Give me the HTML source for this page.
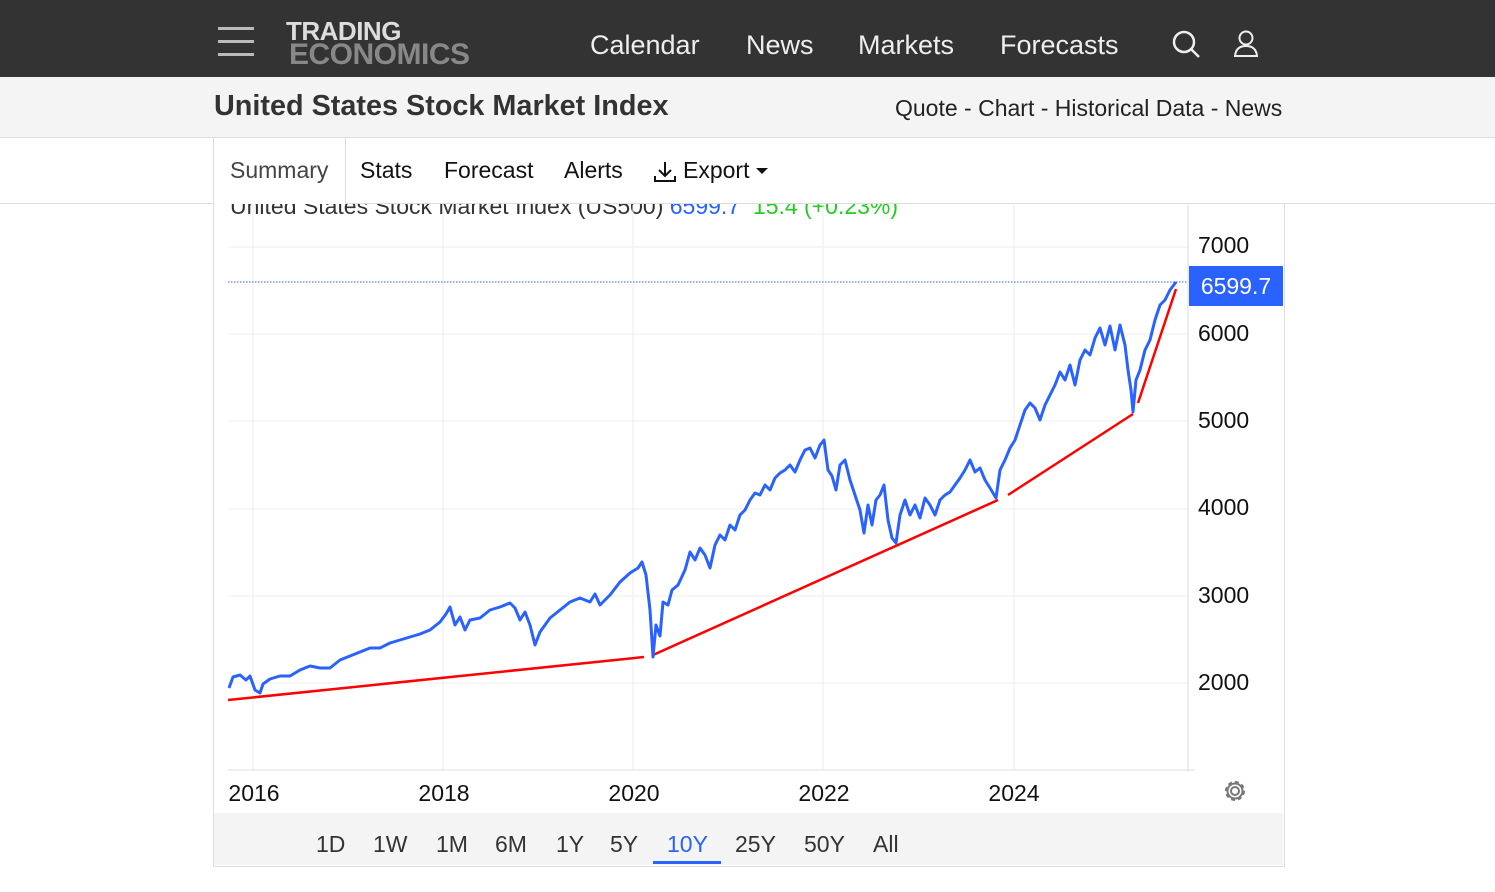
<!DOCTYPE html>
<html><head><meta charset="utf-8"><style>
body{margin:0;width:1495px;height:892px;background:#fff;font-family:"Liberation Sans",sans-serif;position:relative;overflow:hidden}
.a{position:absolute;white-space:nowrap}
</style></head><body>
<div class="a" style="left:0;top:0;width:1495px;height:77px;background:#333"></div>
<div class="a" style="left:218px;top:27px;width:36px;height:3px;background:#bbb"></div>
<div class="a" style="left:218px;top:40px;width:36px;height:3px;background:#bbb"></div>
<div class="a" style="left:218px;top:53px;width:36px;height:3px;background:#bbb"></div>
<div class="a" style="left:286px;top:18px;font-weight:bold;font-size:26px;color:#ddd;line-height:26px;letter-spacing:-0.5px">TRADING</div>
<div class="a" style="left:289px;top:40px;font-weight:bold;font-size:30px;color:#888;line-height:30px;letter-spacing:-0.5px">ECONOMICS</div>
<div class="a" style="left:590px;top:30px;font-size:27px;color:#eee">Calendar</div>
<div class="a" style="left:746px;top:30px;font-size:27px;color:#eee">News</div>
<div class="a" style="left:858px;top:30px;font-size:27px;color:#eee">Markets</div>
<div class="a" style="left:1000px;top:30px;font-size:27px;color:#eee">Forecasts</div>
<svg class="a" style="left:1170px;top:28px" width="100" height="32"><circle cx="14" cy="14" r="10" stroke="#eee" stroke-width="2.5" fill="none"/><line x1="21" y1="21" x2="29" y2="29" stroke="#eee" stroke-width="2.5"/><circle cx="76" cy="10" r="6.5" stroke="#eee" stroke-width="2" fill="none"/><path d="M65 28 Q66 18 76 18 Q86 18 87 28 Z" stroke="#eee" stroke-width="2" fill="none"/></svg>
<div class="a" style="left:0;top:77px;width:1495px;height:60px;background:#f4f4f4;border-bottom:1px solid #ddd"></div>
<div class="a" style="left:214px;top:90px;font-size:28.8px;font-weight:bold;color:#333">United States Stock Market Index</div>
<div class="a" style="left:895px;top:95px;font-size:23px;color:#222">Quote - Chart - Historical Data - News</div>
<div class="a" style="left:213px;top:138px;width:1070px;height:728px;border:1px solid #ddd;border-top:none"></div>
<div class="a" style="left:230px;top:193px;font-size:23px;color:#333">United States Stock Market Index (US500) <span style="color:#2962ff">6599.7</span>&nbsp;&nbsp;<span style="color:#2c2">15.4 (+0.23%)</span></div>
<div class="a" style="left:0;top:138px;width:1495px;height:65px;background:#fff;border-bottom:1px solid #ddd"></div>
<div class="a" style="left:213px;top:138px;width:131px;height:66px;border-left:1px solid #ddd;border-right:1px solid #ddd;background:#fff"></div>
<div class="a" style="left:230px;top:157px;font-size:23px;color:#444">Summary</div>
<div class="a" style="left:360px;top:157px;font-size:23px;color:#111">Stats</div>
<div class="a" style="left:444px;top:157px;font-size:23px;color:#111">Forecast</div>
<div class="a" style="left:564px;top:157px;font-size:23px;color:#111">Alerts</div>
<svg class="a" style="left:653px;top:160px" width="26" height="24"><path d="M12 2v14M6 10l6 6 6-6M2 16v5h20v-5" stroke="#111" stroke-width="2" fill="none"/></svg>
<div class="a" style="left:683px;top:157px;font-size:23px;color:#111">Export</div>
<div class="a" style="left:756px;top:168px;width:0;height:0;border-left:6px solid transparent;border-right:6px solid transparent;border-top:6px solid #111"></div>
<svg class="a" style="left:0;top:0" width="1495" height="892">
<g stroke="#eee" stroke-width="1">
<line x1="253" y1="205" x2="253" y2="770"/><line x1="443" y1="205" x2="443" y2="770"/><line x1="633" y1="205" x2="633" y2="770"/><line x1="823" y1="205" x2="823" y2="770"/><line x1="1014" y1="205" x2="1014" y2="770"/>
<line x1="228" y1="247" x2="1188" y2="247"/><line x1="228" y1="334" x2="1188" y2="334"/><line x1="228" y1="421" x2="1188" y2="421"/><line x1="228" y1="509" x2="1188" y2="509"/><line x1="228" y1="596" x2="1188" y2="596"/><line x1="228" y1="683" x2="1188" y2="683"/>
</g>
<line x1="1188" y1="205" x2="1188" y2="772" stroke="#ddd"/>
<line x1="228" y1="770" x2="1195" y2="770" stroke="#ddd"/>
<line x1="228" y1="282" x2="1188" y2="282" stroke="#2962ff" stroke-width="1" stroke-dasharray="1.5,1.5"/>
<g stroke="#f00" stroke-width="2.5"><line x1="228" y1="700" x2="644" y2="657"/><line x1="653" y1="655" x2="998" y2="500"/><line x1="1008" y1="495" x2="1133" y2="414"/><line x1="1138" y1="403" x2="1176" y2="289"/></g>
<polyline fill="none" stroke="#2962ff" stroke-width="3" stroke-linejoin="round" points="229,688 233,677 240,675 246,680 250,676 255,690 260,693 263,684 270,679 280,676 290,676 300,670 310,666 320,668 330,668 340,660 350,656 360,652 370,648 380,648 390,643 400,640 410,637 420,634 430,630 440,622 446,614 450,607 455,625 460,617 465,630 470,620 480,618 490,610 500,607 510,603 515,608 520,620 525,612 530,625 535,645 540,632 545,625 550,618 560,610 570,602 580,598 590,602 595,594 600,605 610,595 620,582 630,573 638,568 642,562 646,575 650,610 653,657 656,625 660,636 663,602 668,605 672,590 678,585 685,570 690,552 695,560 700,548 705,555 710,568 715,545 720,535 725,540 730,525 735,530 740,515 745,510 750,500 755,493 760,495 765,485 770,490 775,478 780,473 785,470 790,465 795,472 800,460 805,450 810,448 815,458 820,445 824,440 828,470 832,476 836,490 840,465 845,460 850,480 855,495 860,510 864,533 868,505 872,525 876,500 880,495 884,485 888,520 892,538 896,543 900,515 905,500 910,515 915,505 920,518 925,498 930,505 935,515 940,500 945,495 950,492 955,485 960,478 965,470 970,460 975,472 980,468 985,480 990,488 996,498 1000,470 1005,460 1010,448 1015,440 1020,425 1025,410 1030,403 1035,408 1040,420 1045,405 1050,395 1055,385 1060,372 1065,380 1070,365 1075,385 1080,360 1085,350 1090,355 1095,338 1100,328 1105,345 1110,326 1115,350 1120,325 1125,345 1128,370 1131,390 1133,412 1136,380 1140,370 1145,350 1150,340 1155,320 1160,305 1165,300 1170,290 1176,282"/>
<rect x="1189" y="266" width="94" height="40" fill="#2962ff"/>
<text x="1236" y="294" fill="#fff" font-size="23" text-anchor="middle" font-family="Liberation Sans">6599.7</text>
<g font-family="Liberation Sans" font-size="23" fill="#111">
<text x="1198" y="253">7000</text><text x="1198" y="341">6000</text><text x="1198" y="428">5000</text><text x="1198" y="515">4000</text><text x="1198" y="603">3000</text><text x="1198" y="690">2000</text>
<text x="254" y="801" text-anchor="middle">2016</text><text x="444" y="801" text-anchor="middle">2018</text><text x="634" y="801" text-anchor="middle">2020</text><text x="824" y="801" text-anchor="middle">2022</text><text x="1014" y="801" text-anchor="middle">2024</text>
</g>
<g transform="translate(1235,791)" fill="none" stroke="#777" stroke-width="2"><circle r="4"/><circle r="9" stroke-dasharray="4,3"/><circle r="7.5"/></g>
</svg>
<div class="a" style="left:214px;top:813px;width:1069px;height:52px;background:#f4f4f4"></div>
<div class="a" style="left:316px;top:831px;font-size:23px;color:#333">1D</div>
<div class="a" style="left:373px;top:831px;font-size:23px;color:#333">1W</div>
<div class="a" style="left:436px;top:831px;font-size:23px;color:#333">1M</div>
<div class="a" style="left:495px;top:831px;font-size:23px;color:#333">6M</div>
<div class="a" style="left:556px;top:831px;font-size:23px;color:#333">1Y</div>
<div class="a" style="left:610px;top:831px;font-size:23px;color:#333">5Y</div>
<div class="a" style="left:667px;top:831px;font-size:23px;color:#2962ff">10Y</div>
<div class="a" style="left:653px;top:861px;width:68px;height:3px;background:#2962ff"></div>
<div class="a" style="left:735px;top:831px;font-size:23px;color:#333">25Y</div>
<div class="a" style="left:804px;top:831px;font-size:23px;color:#333">50Y</div>
<div class="a" style="left:873px;top:831px;font-size:23px;color:#333">All</div>
</body></html>
